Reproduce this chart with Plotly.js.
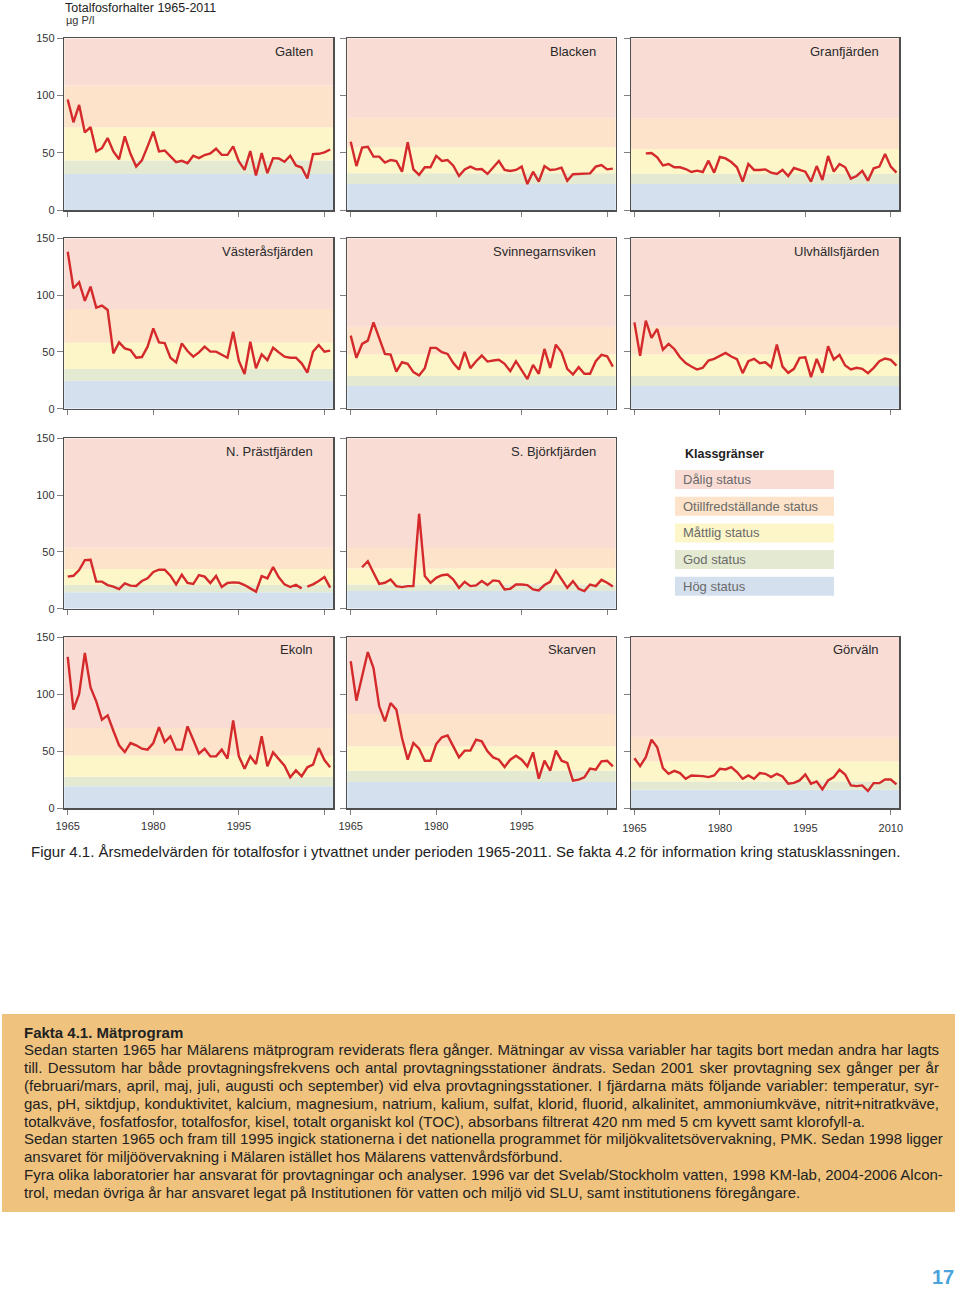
<!DOCTYPE html>
<html>
<head>
<meta charset="utf-8">
<script src="https://cdn.plot.ly/plotly-3.0.1.min.js"></script>
<style>
html,body{margin:0;padding:0;background:#fff;}
#chart{width:960px;height:1290px;}
</style>
</head>
<body>
<div id="chart"></div>
<script>
// ---------- DATA ----------
const YEARS = [1965,1966,1967,1968,1969,1970,1971,1972,1973,1974,1975,1976,1977,1978,1979,1980,
  1981,1982,1983,1984,1985,1986,1987,1988,1989,1990,1991,1992,1993,1994,1995,1996,1997,1998,1999,
  2000,2001,2002,2003,2004,2005,2006,2007,2008,2009,2010,2011];

const X_TICKS = [1965,1980,1995,2010];
const X_TICK_LABELS = ['1965','1980','1995','2010'];
const Y_TICKS = [0,50,100,150];
const Y_TICK_LABELS = ['0','50','100','150'];

const STATUS_LABELS = ['Hög status','God status','Måttlig status','Otillfredställande status','Dålig status'];

// station names
const STATIONS = ['Galten','Blacken','Granfjärden','Västeråsfjärden','Svinnegarnsviken','Ulvhällsfjärden',
  'N. Prästfjärden','S. Björkfjärden','Ekoln','Skarven','Görväln'];

// first year of each series
const galtenStart = 1965, blackenStart = 1965, granStart = 1967, vasterasStart = 1965,
      svinStart = 1965, ulvStart = 1965, prastStart = 1965, bjorkStart = 1967,
      ekolnStart = 1965, skarvenStart = 1965, gorvalnStart = 1965;

// class boundaries (µg P/l): Hög|God, God|Måttlig, Måttlig|Otillfr., Otillfr.|Dålig
const galtenBands   = [31.5, 43.3, 72.2, 108.8];
const blackenBands  = [22.7, 32.0, 54.5, 80.7];
const granBands     = [22.7, 31.5, 53.3, 80.1];
const vasterasBands = [24.7, 35.0, 58.1, 87.8];
const svinBands     = [19.9, 28.7, 47.7, 72.2];
const ulvBands      = [19.9, 28.7, 47.7, 72.2];
const prastBands    = [14.4, 20.8, 34.9, 53.7];
const bjorkBands    = [15.5, 21.3, 35.4, 53.5];
const ekolnBands    = [19.0, 27.5, 45.9, 70.2];
const skarvenBands  = [22.8, 32.7, 54.1, 82.5];
const gorvalnBands  = [16.0, 23.3, 40.8, 62.6];

// annual mean total phosphorus (µg P/l)
const galten = [96.5,76.6,91.8,67.8,72.5,51.2,54,62.9,51.2,44.4,64.3,49.1,38,43.3,55.6,68.4,51.2,52,46.8,41.8,
  43,40.9,47.4,45.3,48,49.4,53.5,48.2,48.2,55.6,42.4,35.1,51.5,30.1,49.7,32.2,45.3,45,42.1,47.4,
  38.9,37.1,27.5,48.8,49.1,50.3,52.9];
const blacken = [59.7,38.4,54.5,55.3,46.6,46.6,41.4,43.7,42.8,33.5,59.1,35.5,30.6,37.3,37.3,47.2,42.8,43.7,38.7,29.7,
  35.5,37.9,35.5,35.8,31.5,37,42.8,35,34.1,35,37.9,22.7,33.5,24.8,38.4,35,35.5,37,25.6,31.2,
  31.5,31.5,32,37.9,39.3,35.5,36.1];
const granfjarden = [49.5,49.8,46,39,40.2,37.3,37.3,35.8,33.2,34.4,33.2,43.1,32.6,46.3,45.1,41.9,37.3,24.8,40.2,35,
  35,35.5,32.6,31.5,35,29.7,36.7,35,33.5,24.8,38.4,26.2,47.2,33.5,40.2,37.3,27.4,29.7,34.1,25.6,
  36.4,37.9,48.9,37.9,32.6];
const vasteras = [138.2,106,111.3,94.9,107.5,89,90.8,86.9,48.7,58.4,53.1,51.7,44.9,45.5,54.6,70.7,58.4,57.8,44.9,40.8,
  57.5,50.8,45.8,49.6,54.6,50.2,50.2,47.3,44.9,67.8,42,30.5,59,35.5,47.8,42.8,53.7,49.6,45.8,44.9,
  44.9,39.9,31.7,50.2,56,50.2,51.1];
const svinnegarn = [64.3,44.7,57,59.9,76,61.4,48.2,47.7,32.7,40.9,39.5,32.2,29.2,35.7,53.5,53.5,49.7,48.2,40.1,34.5,
  50,35.7,41.8,46.8,41.5,42.4,43,39.5,33,41.8,33.6,26,38.6,30.7,52.6,35.9,56.4,49.7,35.1,30.1,
  36.5,30.7,30.7,41.8,47.4,46.2,37.1];
const ulvhalls = [76,46.5,77.5,62.3,70.2,52,57,52.6,45.3,40.1,37.1,34.5,36,42.4,43.9,46.8,49.1,45.9,43.6,31.3,
  41.8,43.9,40.1,40.9,36.5,56.4,37.1,31.6,35.1,44.7,45.3,27.8,43.9,31.6,55,43.3,47.4,38,34.5,36,
  35.1,31.3,36,41.8,44.2,43,38];
const prastfjarden = [28.2,29,34,42.8,43.1,23.8,23.8,20.8,19.4,17.3,22.3,20.3,20,24.4,26.7,32.3,34.3,34.3,29.1,21.4,
  29.9,22.6,21.7,29.6,28.2,22.6,28.8,19.1,22.6,23.2,22.9,20.8,17.9,15,28.8,26.7,36.7,27.6,21.4,19.1,
  21.1,17.9,19.4,21.4,24.4,27.9,18.5];
const prastBreakAfter = 2006; // the line is interrupted after this year
const bjorkfjarden = [36.5,41.8,31.6,21.9,22.8,25.7,19.9,19,19.9,19.9,83.6,28.7,22.8,27.2,29.5,30.1,25.7,18.4,23.7,19.9,
  20.5,24.3,20.8,24.9,24.3,17,17.5,21.3,21.3,20.8,17,16.1,20.8,23.7,33.6,25.7,18.4,24.3,17.5,15.5,
  21.3,19.9,25.4,22.8,19.5];
const ekoln = [132.5,86.3,100,136,105.8,93.6,77.5,81.3,67.8,55,49.1,57,55,52,51.2,57,71,57.9,62.9,51.2,
  51.2,71.6,59.9,47.7,52,45.3,45.3,51.2,43.3,76.9,45.3,34.5,45.3,38.6,62.9,36.5,48.8,43,37.1,26.9,
  33,27.8,35.7,38,52.6,42.1,35.7];
const skarven = [128.7,94.2,115.5,136.8,122.8,89.2,76,92.1,86.3,61.4,42.4,57,52,41.5,41.5,56.1,62,63.7,54.1,44.4,
  50.3,50.3,59.9,58.5,49.7,44.4,42.4,36,42.4,45.9,42.4,36.5,48.8,25.7,41.5,32.7,50.3,41.5,39.5,24,
  24.9,26.9,34.5,33.6,40.9,41.5,36.5];
const gorvaln = [43.7,36.7,44.6,60,53.3,35,30,32.6,30.6,25.6,28.5,28.5,28,27.1,28.5,34.4,33.8,35.8,31.5,25.6,
  28.5,25.6,30.6,30,27.1,30,27.7,21.3,22.1,24.2,29.4,21.3,23.3,16.3,24.2,27.1,33.5,29.4,19.8,19.2,
  19.8,14.9,21.8,21.8,25,25,20.7];

const TITLE_TEXT = 'Totalfosforhalter 1965-2011';
const UNIT_TEXT = 'µg P/l';
const LEGEND_TITLE = 'Klassgränser';
const CAPTION = 'Figur 4.1. Årsmedelvärden för totalfosfor i ytvattnet under perioden 1965-2011. Se fakta 4.2 för information kring statusklassningen.';
const faktaLines = [
  '<b>Fakta 4.1. Mätprogram</b>',
  'Sedan starten 1965 har Mälarens mätprogram reviderats flera gånger. Mätningar av vissa variabler har tagits bort medan andra har lagts',
  'till. Dessutom har både provtagningsfrekvens och antal provtagningsstationer ändrats. Sedan 2001 sker provtagning sex gånger per år',
  '(februari/mars, april, maj, juli, augusti och september) vid elva provtagningsstationer. I fjärdarna mäts följande variabler: temperatur, syr-',
  'gas, pH, siktdjup, konduktivitet, kalcium, magnesium, natrium, kalium, sulfat, klorid, fluorid, alkalinitet, ammoniumkväve, nitrit+nitratkväve,',
  'totalkväve, fosfatfosfor, totalfosfor, kisel, totalt organiskt kol (TOC), absorbans filtrerat 420 nm med 5 cm kyvett samt klorofyll-a.',
  'Sedan starten 1965 och fram till 1995 ingick stationerna i det nationella programmet för miljökvalitetsövervakning, PMK. Sedan 1998 ligger',
  'ansvaret för miljöövervakning i Mälaren istället hos Mälarens vattenvårdsförbund.',
  'Fyra olika laboratorier har ansvarat för provtagningar och analyser. 1996 var det Svelab/Stockholm vatten, 1998 KM-lab, 2004-2006 Alcon-',
  'trol, medan övriga år har ansvaret legat på Institutionen för vatten och miljö vid SLU, samt institutionens föregångare.'
];
const faktaJustified = [false, true, true, true, true, false, true, false, true, false];
const PAGE_NUMBER = '17';

// ---------- STYLE / LAYOUT ----------
const W = 960, H = 1290;
const FONT = 'Liberation Sans, Arial, Helvetica, sans-serif';
const BAND_COLORS = ['#d4e0ee', '#e4ead2', '#fdf6c8', '#fde3c9', '#f9ddd5']; // Hög, God, Måttlig, Otillfr., Dålig
const LINE_COLOR = '#d42a2b';
const FRAME_COLOR = '#4f4f4f';

const px = v => v / W;
const py = v => 1 - v / H;

const COL_DOM = [[px(64.3), px(333)], [px(347.3), px(615.7)], [px(631), px(899.3)]];
const ROW_DOM = [[py(210), py(38.3)], [py(408.7), py(238.3)], [py(608.7), py(438.3)], [py(808), py(637)]];

const panels = [
  {vals: galten,       start: galtenStart,   bands: galtenBands,   row: 0, col: 0},
  {vals: blacken,      start: blackenStart,  bands: blackenBands,  row: 0, col: 1},
  {vals: granfjarden,  start: granStart,     bands: granBands,     row: 0, col: 2},
  {vals: vasteras,     start: vasterasStart, bands: vasterasBands, row: 1, col: 0},
  {vals: svinnegarn,   start: svinStart,     bands: svinBands,     row: 1, col: 1},
  {vals: ulvhalls,     start: ulvStart,      bands: ulvBands,      row: 1, col: 2},
  {vals: prastfjarden, start: prastStart,    bands: prastBands,    row: 2, col: 0, breakAfter: prastBreakAfter},
  {vals: bjorkfjarden, start: bjorkStart,    bands: bjorkBands,    row: 2, col: 1},
  {vals: ekoln,        start: ekolnStart,    bands: ekolnBands,    row: 3, col: 0},
  {vals: skarven,      start: skarvenStart,  bands: skarvenBands,  row: 3, col: 1},
  {vals: gorvaln,      start: gorvalnStart,  bands: gorvalnBands,  row: 3, col: 2}
];

const data = [];
const shapes = [];
const annotations = [];
const layout = {
  width: W, height: H,
  margin: {l: 0, r: 0, t: 0, b: 0, pad: 0},
  paper_bgcolor: '#ffffff',
  plot_bgcolor: '#ffffff',
  showlegend: false,
  font: {family: FONT, color: '#333', size: 11},
  shapes: shapes,
  annotations: annotations
};

panels.forEach((p, i) => {
  const id = i === 0 ? '' : String(i + 1);
  const i0 = YEARS.indexOf(p.start);
  const yrs = YEARS.slice(i0, i0 + p.vals.length);
  let xs = [], ys = [];
  yrs.forEach((yr, k) => {
    xs.push(yr); ys.push(p.vals[k]);
    if (p.breakAfter !== undefined && yr === p.breakAfter) { xs.push(yr + 0.5); ys.push(null); }
  });
  data.push({
    type: 'scatter', mode: 'lines', x: xs, y: ys,
    xaxis: 'x' + id, yaxis: 'y' + id,
    line: {color: LINE_COLOR, width: 2.4},
    connectgaps: false, hoverinfo: 'skip', showlegend: false
  });
  const xt = p.col === 2 ? X_TICK_LABELS : X_TICK_LABELS.map(t => t === '2010' ? '' : t);
  layout['xaxis' + id] = {
    domain: COL_DOM[p.col], range: [1964.4, 2011.5], anchor: 'y' + id,
    tickmode: 'array', tickvals: X_TICKS, ticktext: xt,
    showticklabels: p.row === 3,
    ticklabelstandoff: p.col === 2 ? 4 : 2,
    ticks: 'outside', ticklen: 5, tickwidth: 1, tickcolor: '#808080',
    tickfont: {family: FONT, size: 11, color: '#333'},
    showline: true, mirror: true, linecolor: FRAME_COLOR, linewidth: 1.5,
    showgrid: false, zeroline: false, fixedrange: true
  };
  layout['yaxis' + id] = {
    domain: ROW_DOM[p.row], range: [0, 150], anchor: 'x' + id,
    tickmode: 'array', tickvals: Y_TICKS, ticktext: Y_TICK_LABELS,
    showticklabels: p.col === 0,
    ticks: 'outside', ticklen: 6, tickwidth: 1, tickcolor: '#808080',
    tickfont: {family: FONT, size: 11, color: '#333'},
    showline: true, mirror: true, linecolor: FRAME_COLOR, linewidth: 1.5,
    showgrid: false, zeroline: false, fixedrange: true
  };
  const edges = [0].concat(p.bands).concat([150]);
  for (let b = 0; b < 5; b++) {
    shapes.push({
      type: 'rect', layer: 'below',
      xref: 'x' + id + ' domain', yref: 'y' + id,
      x0: 0, x1: 1, y0: edges[b], y1: edges[b + 1],
      fillcolor: BAND_COLORS[b], line: {width: 0}
    });
  }
  annotations.push({
    xref: 'x' + id + ' domain', yref: 'y' + id + ' domain',
    x: 1, y: 1, xanchor: 'right', yanchor: 'middle', xshift: -18, yshift: -13,
    text: STATIONS[i], showarrow: false,
    font: {family: FONT, size: 13, color: '#2a2a2a'}
  });
});

// titles
annotations.push({xref: 'paper', yref: 'paper', x: px(64), y: 1, xanchor: 'left', yanchor: 'top', borderpad: 0,
  text: TITLE_TEXT, showarrow: false, font: {family: FONT, size: 12.5, color: '#222'}});
annotations.push({xref: 'paper', yref: 'paper', x: px(64), y: py(20), xanchor: 'left', yanchor: 'middle',
  text: UNIT_TEXT, showarrow: false, font: {family: FONT, size: 11, color: '#333'}});

// legend (Klassgränser)
annotations.push({xref: 'paper', yref: 'paper', x: px(683), y: py(454), xanchor: 'left', yanchor: 'middle',
  text: '<b>' + LEGEND_TITLE + '</b>', showarrow: false, font: {family: FONT, size: 12.5, color: '#222'}});
for (let k = 0; k < 5; k++) {
  const b = 4 - k; // Dålig first
  const top = 470 + k * 26.7, bot = top + 19;
  shapes.push({type: 'rect', xref: 'paper', yref: 'paper', x0: px(675), x1: px(834), y0: py(bot), y1: py(top),
    fillcolor: BAND_COLORS[b], line: {width: 0}, layer: 'above'});
  annotations.push({xref: 'paper', yref: 'paper', x: px(681), y: py((top + bot) / 2), xanchor: 'left', yanchor: 'middle',
    text: STATUS_LABELS[b], showarrow: false, font: {family: FONT, size: 13, color: '#6a6a6a'}});
}

// caption
annotations.push({xref: 'paper', yref: 'paper', x: px(29), y: py(851), xanchor: 'left', yanchor: 'middle',
  text: CAPTION, showarrow: false, font: {family: FONT, size: 15, color: '#222'}});

// fakta box
shapes.push({type: 'rect', xref: 'paper', yref: 'paper', x0: px(2), x1: px(955), y0: py(1212), y1: py(1014),
  fillcolor: '#efc37e', line: {width: 0}, layer: 'above'});
const faktaFirstIdx = annotations.length;
faktaLines.forEach((t, k) => {
  annotations.push({xref: 'paper', yref: 'paper', x: px(22), y: py(1032 + k * 17.8), xanchor: 'left', yanchor: 'middle',
    align: 'left', text: t, showarrow: false, font: {family: FONT, size: 15, color: '#222'}});
});

// page number
annotations.push({xref: 'paper', yref: 'paper', x: px(943), y: py(1277), xanchor: 'center', yanchor: 'middle',
  text: '<b>' + PAGE_NUMBER + '</b>', showarrow: false, font: {family: FONT, size: 20, color: '#4aa3db'}});

Plotly.newPlot('chart', data, layout, {displayModeBar: false, staticPlot: true}).then(gd => {
  // justify the running text of the fakta box (left 24px to right 939px)
  const target = 939 - 24;
  faktaLines.forEach((t, k) => {
    if (!faktaJustified[k]) return;
    const g = gd.querySelector('.annotation[data-index="' + (faktaFirstIdx + k) + '"] text.annotation-text');
    if (!g) return;
    const w = g.getComputedTextLength();
    const n = (g.textContent.match(/ /g) || []).length;
    if (n > 0 && w < target) g.setAttribute('word-spacing', ((target - w) / n).toFixed(2));
  });
});
</script>
</body>
</html>
